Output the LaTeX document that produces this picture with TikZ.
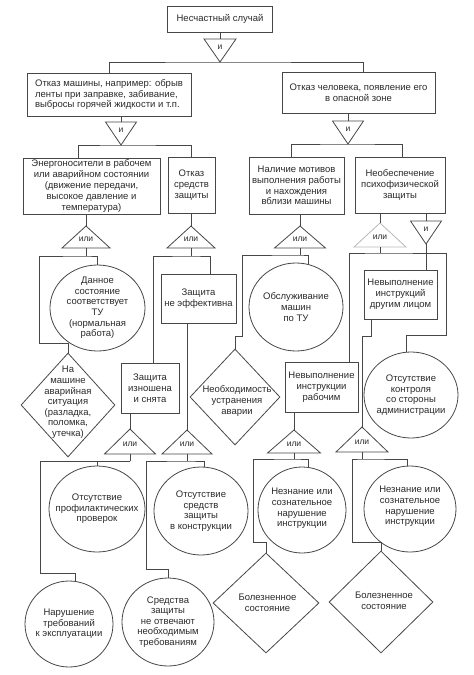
\documentclass[tikz,border=0pt]{standalone}
\usepackage{fontspec}
\setmainfont{Liberation Sans}
\usetikzlibrary{shapes.geometric}
\definecolor{ln}{HTML}{474747}
\definecolor{tx}{HTML}{2B2B2B}
\tikzset{
 con/.style={draw=ln, line width=0.8pt},
 gateline/.style={draw=ln, line width=0.8pt, line join=miter},
 gatetext/.style={font=\fontsize{8.5}{10}\selectfont, text=tx, inner sep=0pt},
 box/.style={draw=ln, line width=0.8pt, rectangle, align=center, inner sep=1pt, font=\fontsize{9.5}{10.8}\selectfont, text=tx},
 ell/.style={draw=ln, line width=0.8pt, ellipse, inner sep=0pt},
 dia/.style={draw=ln, line width=0.8pt, diamond, inner sep=0pt},
 txt/.style={align=center, inner sep=0pt, font=\fontsize{9.5}{10.6}\selectfont, text=tx},
}
\newcommand{\OrGate}[6][ln]{%
 \draw[gateline, draw=#1] (#3,#4) -- ({#3+#6},#5) -- ({#3-#6},#5) -- cycle;
 \coordinate (#2-a) at (#3,#4);
 \coordinate (#2-b) at (#3,#5);
 \node[gatetext] (#2) at (#3,{#4+0.6*(#5-#4)}) {или};
}
\newcommand{\AndGate}[5]{%
 \draw[gateline] ({#2-#5},#3) -- ({#2+#5},#3) -- (#2,#4) -- cycle;
 \coordinate (#1-t) at (#2,#3);
 \coordinate (#1-a) at (#2,#4);
 \node[gatetext] (#1) at (#2,{#3+0.38*(#4-#3)}) {и};
}
\begin{document}
\begin{tikzpicture}[x=1pt, y=-1pt]
\fill[white] (0,0) rectangle (474,675);
\useasboundingbox (0,0) rectangle (474,675);

% boxes
\node[box, minimum width=105pt, minimum height=26pt] (b0) at (220,19) {Несчастный случай};
\node[box, align=left, minimum width=164pt, minimum height=43pt] (b1) at (109,94.5) {Отказ машины, например: обрыв\\ленты при заправке, забивание,\\выбросы горячей жидкости и т.п.};
\node[box, minimum width=153pt, minimum height=41pt] (b2) at (358.5,92.5) {Отказ человека, появление его\\в опасной зоне};
\node[box, minimum width=137pt, minimum height=56pt] (b3) at (91.5,186) {Энергоносители в рабочем\\или аварийном состоянии\\(движение передачи,\\высокое давление и\\температура)};
\node[box, minimum width=47pt, minimum height=56pt] (b4) at (191.5,185) {Отказ\\средств\\защиты};
\node[box, minimum width=95pt, minimum height=57pt] (b5) at (296.5,185.5) {Наличие мотивов\\выполнения работы\\и нахождения\\вблизи машины};
\node[box, minimum width=90pt, minimum height=56pt] (b6) at (400,185) {Необеспечение\\психофизической\\защиты};
\node[box, minimum width=75pt, minimum height=49pt] (b7) at (198.5,298.5) {Защита\\не эффективна};
\node[box, minimum width=58pt, minimum height=50pt] (b8) at (150,388) {Защита\\изношена\\и снята};
\node[box, minimum width=73pt, minimum height=49pt] (b9) at (400.5,294.5) {Невыполнение\\инструкций\\другим лицом};
\node[box, minimum width=73pt, minimum height=50pt] (b10) at (321.5,387) {Невыполнение\\инструкции\\рабочим};

% ellipses
\node[ell, minimum width=95pt, minimum height=86pt] (c1) at (97.5,308) {};
\node[txt] (c1t) at (c1.center) {Данное\\состояние\\соответствует\\ТУ\\(нормальная\\работа)};
\node[ell, minimum width=94pt, minimum height=88pt] (c2) at (296,307) {};
\node[txt] (c2t) at (c2.center) {Обслуживание\\машин\\по ТУ};
\node[ell, minimum width=94pt, minimum height=86pt] (c3) at (411,395) {};
\node[txt] (c3t) at (c3.center) {Отсутствие\\контроля\\со стороны\\администрации};
\node[ell, minimum width=96pt, minimum height=86pt] (c4) at (97,509) {};
\node[txt] (c4t) at (c4.center) {Отсутствие\\профилактических\\проверок};
\node[ell, minimum width=94pt, minimum height=88pt] (c5) at (201,511) {};
\node[txt] (c5t) at (c5.center) {Отсутствие\\средств\\защиты\\в конструкции};
\node[ell, minimum width=88pt, minimum height=86pt] (c6) at (302,510) {};
\node[txt] (c6t) at ([yshift=1.5pt]c6.center) {Незнание или\\сознательное\\нарушение\\инструкции};
\node[ell, minimum width=92pt, minimum height=86pt] (c7) at (410,509) {};
\node[txt] (c7t) at ([yshift=2.5pt]c7.center) {Незнание или\\сознательное\\нарушение\\инструкции};
\node[ell, minimum width=88pt, minimum height=86pt] (c8) at (69,624) {};
\node[txt] (c8t) at (c8.center) {Нарушение\\требований\\к эксплуатации};
\node[ell, minimum width=92pt, minimum height=88pt] (c9) at (168,622) {};
\node[txt] (c9t) at (c9.center) {Средства\\защиты\\не отвечают\\необходимым\\требованиям};

% diamonds
\node[dia, minimum width=94pt, minimum height=104pt] (d1) at (68,405) {};
\node[txt] (d1t) at (68,402.5) {На\\машине\\аварийная\\ситуация\\(разладка,\\поломка,\\утечка)};
\node[dia, minimum width=90pt, minimum height=96pt] (d2) at (235,397) {};
\node[txt] (d2t) at (237,401) {Необходимость\\устранения\\аварии};
\node[dia, minimum width=106pt, minimum height=100pt] (d3) at (266,603) {};
\node[txt] (d3t) at (267.5,602.5) {Болезненное\\состояние};
\node[dia, minimum width=104pt, minimum height=102pt] (d4) at (381,602) {};
\node[txt] (d4t) at (384,600.5) {Болезненное\\состояние};

% gates
\AndGate{g0}{220}{39}{62}{16}
\AndGate{g1}{121}{122}{145}{15.5}
\AndGate{g2}{348}{121}{144}{15.5}
\OrGate{g3}{86}{226}{248}{24}
\OrGate{g4}{191}{226}{248}{24}
\OrGate{g5}{300}{226}{248}{25.5}
\OrGate[gray!55]{g6}{380}{223}{247}{26}
\AndGate{g7}{426}{221}{244}{15.5}
\OrGate{g8}{130}{429}{454}{25.5}
\OrGate{g9}{187}{430}{454}{25}
\OrGate{g10}{294}{430}{453}{26.5}
\OrGate{g11}{362}{427}{452}{26}

% connectors
\draw[con] (b0.south) -- (g0-t);
\draw[con] (b1.north) |- (g0-a) -| ([xshift=4.5pt]b2.north);
\draw[con] (b1.south -| g1-t) -- (g1-t);
\draw[con] ([xshift=-13.5pt]b3.north) |- (g1-a) -| (b4.north);
\draw[con] (b2.south -| g2-t) -- (g2-t);
\draw[con] ([xshift=-5.5pt]b5.north) |- (g2-a) -| ([xshift=2pt]b6.north);
\draw[con] (b3.south -| g3-a) -- (g3-a);
\draw[con] (b4.south -| g4-a) -- (g4-a);
\draw[con] (b5.south -| g5-a) -- (g5-a);
\draw[con] (b6.south -| g6-a) -- (g6-a);
\draw[con] (b6.south -| g7-t) -- (g7-t);

\draw[con] (g3-b) -- ++(0,8) coordinate (j3);
\draw[con] (c1.north) |- (j3) -- ++(-47,0) |- ([yshift=9pt]d1.north) -- (d1.north);

\draw[con] (g4-b) -- ++(0,8) coordinate (j4);
\draw[con] ([xshift=11.5pt]b7.north) |- (j4) -| ([xshift=3pt]b8.north);
\draw[con] (b7.south -| g9-a) -- (g9-a);
\draw[con] (b8.south -| g8-a) -- (g8-a);

\draw[con] (g5-b) -- ++(0,7) coordinate (j5);
\draw[con] (c2.74) |- (j5) -- ++(-58,0) |- ([yshift=12pt]d2.north) -- (d2.north);

\draw[con] (g6-b) -- ++(0,6) coordinate (j6);
\draw[con] ([xshift=27.5pt]b10.north) |- (j6) -- ++(66,0) |- ([yshift=16pt]c3.96) -- (c3.96);
\draw[con] (g7-a) -- (g7-a |- b9.north);
\draw[con] ([xshift=-29.5pt]b9.south) -- ++(0,17) -| (g11-a);
\draw[con] (b10.south -| g10-a) -- (g10-a);

\draw[con] (g8-b) -- ++(0,7) coordinate (j8);
\draw[con] (j8) -- ++(-90,0) |- ([yshift=8pt]c8.82) -- (c8.82);
\draw[con] (c4.north) -- (c4.north |- j8);

\draw[con] (g9-b) -- ++(0,7) coordinate (j9);
\draw[con] (c5.86) |- (j9) -- ++(-41,0) |- ([yshift=8pt]c9.north) -- (c9.north);

\draw[con] (g10-b) -- ++(0,6) coordinate (j10);
\draw[con] (c6.82) |- (j10) -- ++(-41,0) |- ([yshift=10pt]d3.north) -- (d3.north);

\draw[con] (g11-b) -- ++(0,7) coordinate (j11);
\draw[con] (c7.94) |- (j11) -- ++(-10,0) |- ([yshift=8pt]d4.north) -- (d4.north);
\end{tikzpicture}
\end{document}
